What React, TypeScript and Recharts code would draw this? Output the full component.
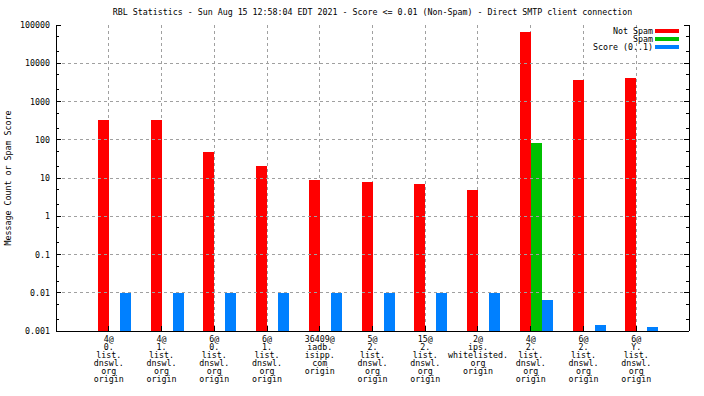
import { BarChart, Bar, XAxis, YAxis, CartesianGrid, ReferenceLine, Legend } from "recharts";

const TITLE = "RBL Statistics - Sun Aug 15 12:58:04 EDT 2021 - Score <= 0.01 (Non-Spam) - Direct SMTP client connection";
const Y_TITLE = "Message Count or Spam Score";

const categories = [
  "4@\n0.\nlist.\ndnswl.\norg\norigin",
  "4@\n1.\nlist.\ndnswl.\norg\norigin",
  "6@\n0.\nlist.\ndnswl.\norg\norigin",
  "6@\n1.\nlist.\ndnswl.\norg\norigin",
  "36409@\niadb.\nisipp.\ncom\norigin",
  "5@\n2.\nlist.\ndnswl.\norg\norigin",
  "15@\n2.\nlist.\ndnswl.\norg\norigin",
  "2@\nips.\nwhitelisted.\norg\norigin",
  "4@\n2.\nlist.\ndnswl.\norg\norigin",
  "6@\n2.\nlist.\ndnswl.\norg\norigin",
  "6@\nY.\nlist.\ndnswl.\norg\norigin",
];
const notSpam = [322, 322, 49, 21, 9, 8, 7, 5, 64000, 3550, 4000];
const spam: (number | null)[] = [null, null, null, null, null, null, null, null, 81, null, null];
const score = [0.01, 0.01, 0.01, 0.01, 0.01, 0.01, 0.01, 0.01, 0.0063, 0.0014, 0.00125];

const decades = [0.001, 0.01, 0.1, 1, 10, 100, 1000, 10000, 100000];
const minorTicks = [0.002, 0.005, 0.02, 0.05, 0.2, 0.5, 2, 5, 20, 50, 200, 500, 2000, 5000, 20000, 50000];
const gridY = [0.01, 0.1, 1, 10, 100, 1000, 10000];

const SERIES = [
  { key: "notSpam", name: "Not Spam", color: "#ff0000" },
  { key: "spam", name: "Spam", color: "#00c000" },
  { key: "score", name: "Score (0..1)", color: "#0080ff" },
];

const data = categories.map((name, i) => ({ name, notSpam: notSpam[i], spam: spam[i], score: score[i] }));
const yTicks = [...decades, ...minorTicks].sort((a, b) => a - b);

const FONT = "'DejaVu Sans Mono', monospace";
const FS = 8.3;
const GRID = "#a0a0a0";

const isMajor = (v: number) => decades.includes(v);

const LeftTick = ({ x, y, payload }: any) => {
  const major = isMajor(payload.value);
  return (
    <g>
      <line x1={x} x2={x + (major ? 5 : 3)} y1={y} y2={y} stroke="#000" />
      {major && (
        <text x={x - 6} y={y} textAnchor="end" dominantBaseline="central" fontFamily={FONT} fontSize={FS} fill="#000">
          {String(payload.value)}
        </text>
      )}
    </g>
  );
};

const RightTick = ({ x, y, payload }: any) => {
  const major = isMajor(payload.value);
  return <line x1={x} x2={x - (major ? 5 : 3)} y1={y} y2={y} stroke="#000" />;
};

const BottomTick = ({ x, y, payload }: any) => {
  const lines = String(payload.value).split("\n");
  return (
    <g>
      <line x1={x} x2={x} y1={y} y2={y - 5} stroke="#000" />
      {lines.map((l, i) => (
        <text key={i} x={x} y={y + 7.7 + i * 8.1} textAnchor="middle" dominantBaseline="central"
          fontFamily={FONT} fontSize={FS} fill="#000">
          {l}
        </text>
      ))}
    </g>
  );
};

const TopTick = ({ x, y }: any) => <line x1={x} x2={x} y1={y} y2={y + 5} stroke="#000" />;

const YLabel = ({ viewBox }: any) => {
  const cx = viewBox.x + 8;
  const cy = viewBox.y + viewBox.height / 2;
  return (
    <text x={cx} y={cy} transform={`rotate(-90 ${cx} ${cy})`} textAnchor="middle" dominantBaseline="central"
      fontFamily={FONT} fontSize={FS} fill="#000">
      {Y_TITLE}
    </text>
  );
};

// legend keeps series order (recharts sorts its payload by name)
const LegendBox = () => (
  <div style={{ width: 100 }}>
    {SERIES.map((s) => (
      <div key={s.key} style={{ display: "flex", justifyContent: "flex-end", alignItems: "center", height: 8 }}>
        <span style={{ fontFamily: FONT, fontSize: FS, lineHeight: "8px", color: "#000", whiteSpace: "pre" }}>{s.name}</span>
        <span style={{ display: "inline-block", width: 24, height: 4, background: s.color, marginLeft: 2 }} />
      </div>
    ))}
  </div>
);

export default function App() {
  return (
    <div style={{ position: "absolute", left: 0, top: 0, width: 704, height: 396, background: "#fff" }}>
      <div style={{ position: "absolute", left: 56, top: 7, width: 633, textAlign: "center", fontFamily: FONT,
        fontSize: FS, lineHeight: "11px", color: "#000", whiteSpace: "pre" }}>
        {TITLE}
      </div>
      <BarChart width={704} height={396} data={data} margin={{ top: 25, right: 0, left: 0, bottom: 0 }}
        barGap={0} barSize={11} style={{ shapeRendering: "crispEdges" }}>
        <CartesianGrid horizontal={false} stroke={GRID} strokeDasharray="3 3" />
        {gridY.map((v) => (
          <ReferenceLine key={v} y={v} yAxisId="left" stroke={GRID} strokeDasharray="3 3" />
        ))}
        <XAxis dataKey="name" interval={0} height={65} padding={{ left: 26.4, right: 26.4 }}
          axisLine={{ stroke: "#000" }} tickLine={false} tickSize={0} tickMargin={0} tick={<BottomTick />} />
        <XAxis xAxisId="top" dataKey="name" orientation="top" interval={0} height={0}
          padding={{ left: 26.4, right: 26.4 }} axisLine={{ stroke: "#000" }} tickLine={false}
          tickSize={0} tickMargin={0} tick={<TopTick />} />
        <XAxis xAxisId="bars" dataKey="name" hide padding={{ left: 31.9, right: 20.9 }} />
        <YAxis yAxisId="left" scale="log" domain={[0.001, 100000]} ticks={yTicks} interval={0}
          allowDataOverflow width={56} axisLine={{ stroke: "#000" }} tickLine={false} tickSize={0}
          tickMargin={0} tick={<LeftTick />} label={<YLabel />} />
        <YAxis yAxisId="right" orientation="right" scale="log" domain={[0.001, 100000]} ticks={yTicks}
          interval={0} allowDataOverflow width={15} axisLine={{ stroke: "#000" }} tickLine={false}
          tickSize={0} tickMargin={0} tick={<RightTick />} />
        <Legend layout="vertical" align="center" verticalAlign="middle" content={<LegendBox />}
          wrapperStyle={{ left: 579, top: 27.3, width: 100 }} />
        {SERIES.map((s) => (
          <Bar key={s.key} dataKey={s.key} name={s.name} fill={s.color} xAxisId="bars" yAxisId="left"
            isAnimationActive={false} />
        ))}
      </BarChart>
    </div>
  );
}
